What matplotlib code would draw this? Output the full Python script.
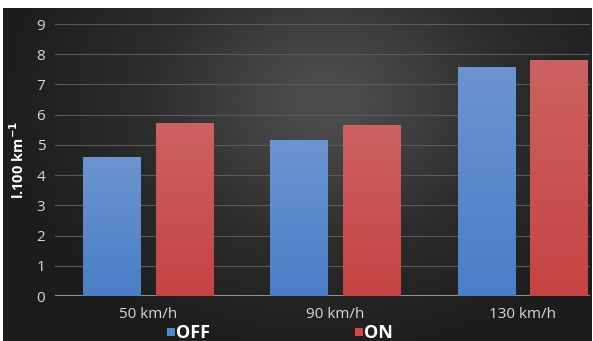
import numpy as np
import matplotlib
matplotlib.use("Agg")
import matplotlib.pyplot as plt
from matplotlib.colors import LinearSegmentedColormap
from matplotlib.patches import Rectangle

categories = ["50 km/h", "90 km/h", "130 km/h"]
series_names = ["OFF", "ON"]
off_values = [4.6, 5.17, 7.58]
on_values = [5.72, 5.67, 7.8]
y_ticks = [0, 1, 2, 3, 4, 5, 6, 7, 8, 9]
y_label = "l.100 km$^{\\mathbf{-1}}$"

plt.rcParams['font.family'] = ['Open Sans', 'DejaVu Sans']

W, H = 593, 341
fig = plt.figure(figsize=(W / 100, H / 100), dpi=100, facecolor="white")

# background panel with soft radial gradient
bg = fig.add_axes([3 / W, 0, (592 - 3) / W, (H - 8) / H], zorder=-10)
bg.set_axis_off()
xx, yy = np.meshgrid(np.linspace(-1, 1, 400), np.linspace(-1, 1, 240))
r = np.sqrt(((xx - 0.1) / 1.15) ** 2 + ((yy - 0.45) / 1.6) ** 2)
val = np.clip(1 - r, 0, 1)
bgcmap = LinearSegmentedColormap.from_list("bg", ["#1c1c1c", "#2c2c2c", "#4b4b4b"])
bg.imshow(val, cmap=bgcmap, aspect="auto", extent=[0, 1, 0, 1], origin="lower", vmin=0, vmax=0.9)
bg.set_xlim(0, 1)
bg.set_ylim(0, 1)

ax = fig.add_axes([55 / W, 45 / H, (590 - 55) / W, (317 - 45) / H])
ax.patch.set_alpha(0)
for s in ax.spines.values():
    s.set_visible(False)

x = np.arange(len(categories))
width = 0.31
offset = 0.193

blue_cmap = LinearSegmentedColormap.from_list("b", ["#4a7ec6", "#6b95d0"])
red_cmap = LinearSegmentedColormap.from_list("r", ["#c64343", "#cd6262"])

grad = np.linspace(0, 1, 256).reshape(-1, 1)
for vals, off, cm in [(off_values, -offset, blue_cmap),
                      (on_values, offset, red_cmap)]:
    bars = ax.bar(x + off, vals, width=width, color="none", edgecolor="none", zorder=3)
    for b in bars:
        x0, y0 = b.get_x(), b.get_y()
        im = ax.imshow(grad, cmap=cm, aspect="auto", origin="lower",
                       extent=[x0, x0 + b.get_width(), y0, y0 + b.get_height()], zorder=3)
        im.set_clip_path(b)

ax.set_xlim(-0.5, 2.36)
ax.set_ylim(0, 9)
ax.set_yticks(y_ticks)
ax.yaxis.grid(True, color="#5a5a5a", linewidth=0.8, zorder=0)
ax.set_axisbelow(True)
ax.axhline(0, color="#a8a8a8", linewidth=1.2, zorder=2)
ax.tick_params(axis="both", length=0, labelcolor="#d8d8d8", labelsize=11)
ax.tick_params(axis="y", pad=7)
ax.tick_params(axis="x", pad=8)
ax.set_xticks(x)
ax.set_xticklabels(categories)
ax.set_ylabel(y_label, color="white", fontsize=10.5, fontweight="bold", labelpad=7)

# legend (manual, bottom)
legend_colors = ["#5088cf", "#cc4a4a"]
legend_x = [167, 355]
for name, col, lx in zip(series_names, legend_colors, legend_x):
    fig.patches.append(Rectangle((lx / W, 5 / H), 8 / W, 8 / H, transform=fig.transFigure,
                                 facecolor=col, edgecolor="none"))
    fig.text((lx + 9) / W, 3.5 / H, name, color="white", fontsize=13, fontweight="bold",
             ha="left", va="baseline")

fig.savefig("out.png", dpi=100, facecolor="white")
